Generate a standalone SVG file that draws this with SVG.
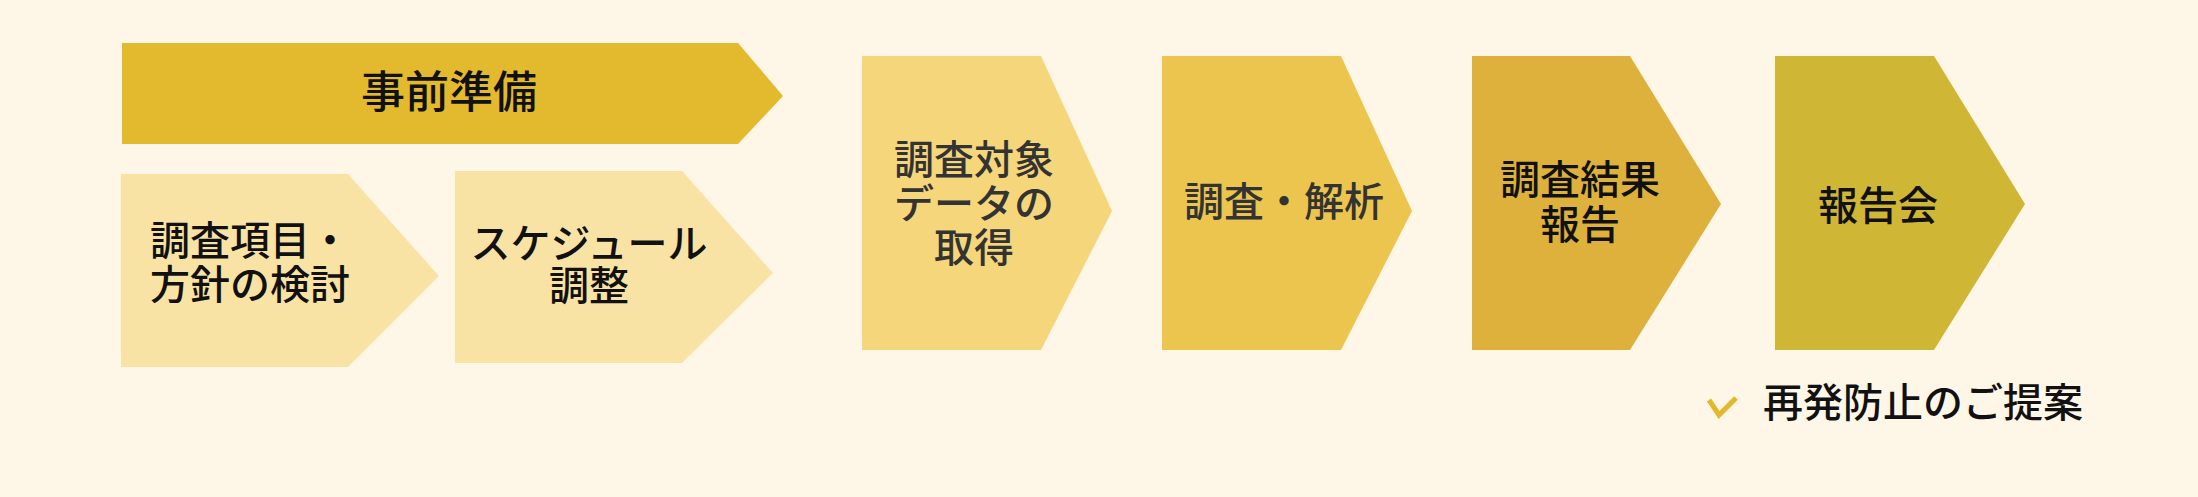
<svg xmlns="http://www.w3.org/2000/svg" width="2198" height="497" viewBox="0 0 2198 497">
<style>
text{font-family:"Noto Sans CJK JP","Noto Sans CJK SC",sans-serif;font-weight:500;font-size:40px;fill:#111;text-anchor:middle}
.g{fill:#333}
.l{text-anchor:start}
.big{font-size:44px}
</style>
<rect width="2198" height="497" fill="#fef6e7"/>
<g id="connectors"/>
<g id="prep">
<polygon points="122,43 738,43 783,96 738,144 122,144" fill="#e3b92e"/>
<text x="449" y="108" class="big">事前準備</text>
</g>
<g id="policy">
<polygon points="121,174 348,174 439,276 348,367 121,367" fill="#f9e3a4"/>
<text x="250" y="255">調査項目・</text>
<text x="250" y="299">方針の検討</text>
</g>
<g id="schedule">
<polygon points="455,171 682,171 773,273 682,363 455,363" fill="#f9e3a4"/>
<text x="589" y="258">スケジュール</text>
<text x="589" y="300">調整</text>
</g>
<g id="data">
<polygon points="862,56 1041,56 1112,211 1041,350 862,350" fill="#f6d67a"/>
<text x="974" y="174" class="g">調査対象</text>
<text x="974" y="218" class="g">データの</text>
<text x="974" y="262" class="g">取得</text>
</g>
<g id="analysis">
<polygon points="1162,56 1341,56 1412,211 1341,350 1162,350" fill="#ecc54f"/>
<text x="1284" y="216" class="g">調査・解析</text>
</g>
<g id="report">
<polygon points="1472,56 1630,56 1721,204 1630,350 1472,350" fill="#ddb13b"/>
<text x="1580" y="194">調査結果</text>
<text x="1580" y="239">報告</text>
</g>
<g id="meeting">
<polygon points="1775,56 1934,56 2025,204 1934,350 1775,350" fill="#cfb635"/>
<text x="1878" y="220">報告会</text>
</g>
<g id="proposal">
<polyline points="1709,400 1719,415 1736,398" fill="none" stroke="#e2b82d" stroke-width="5"/>
<text x="1763" y="417" class="l">再発防止のご提案</text>
</g>
</svg>
